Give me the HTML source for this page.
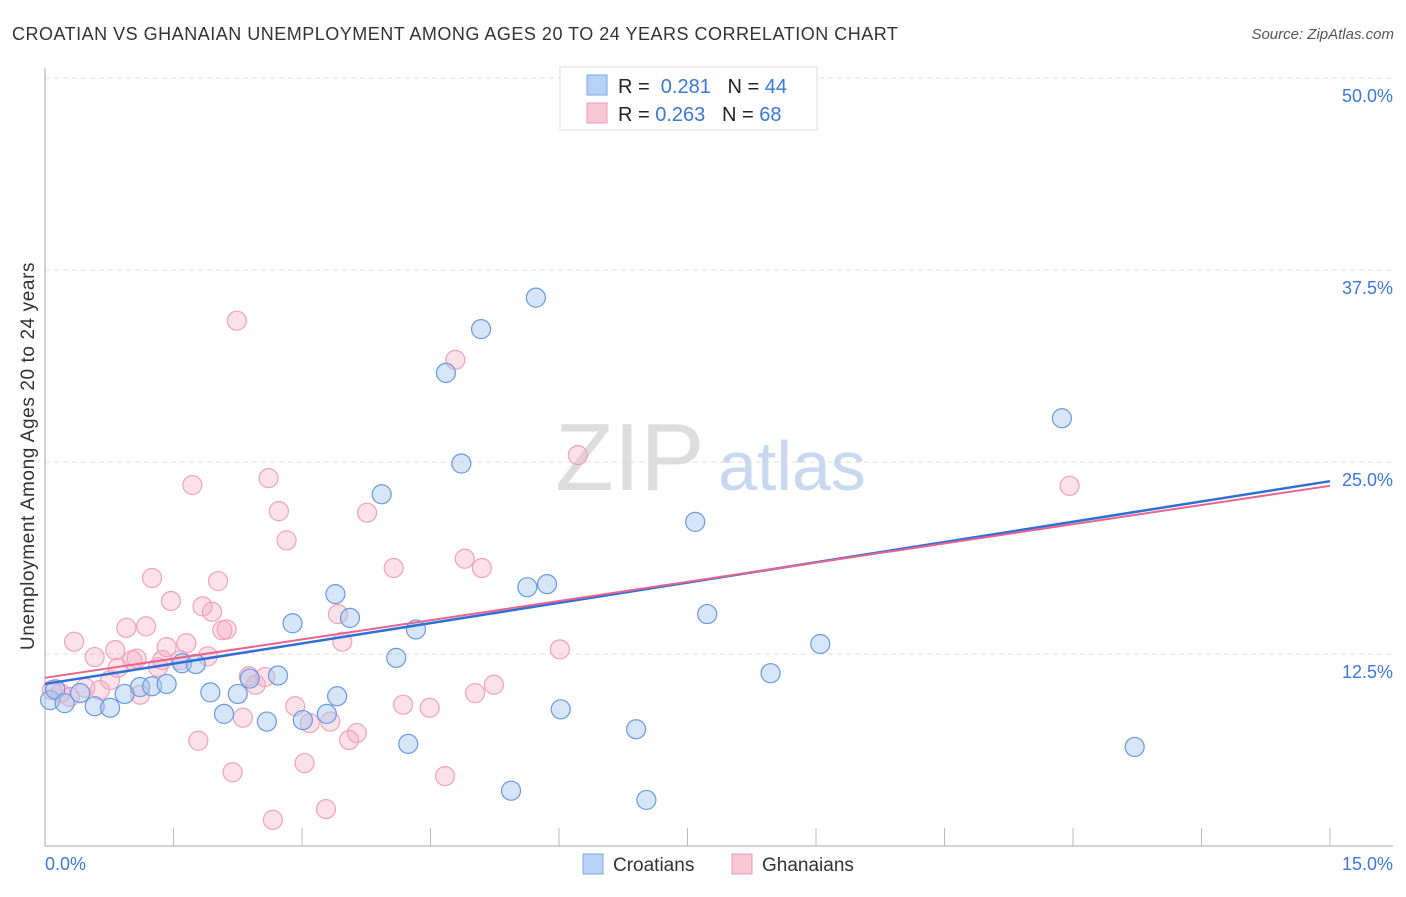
<!DOCTYPE html>
<html><head><meta charset="utf-8"><style>
body{margin:0;background:#fff;font-family:"Liberation Sans",sans-serif;}
svg text{font-family:"Liberation Sans",sans-serif;}
</style></head><body>
<svg id="c" width="1406" height="892">
<text x="12" y="40" font-size="18" fill="#333" letter-spacing="0.5">CROATIAN VS GHANAIAN UNEMPLOYMENT AMONG AGES 20 TO 24 YEARS CORRELATION CHART</text>
<text x="1394" y="39" font-size="15" fill="#555" font-style="italic" text-anchor="end">Source: ZipAtlas.com</text>
<text transform="translate(34,456) rotate(-90)" font-size="19" fill="#333" letter-spacing="0.6" text-anchor="middle">Unemployment Among Ages 20 to 24 years</text>
<text x="555" y="490" font-size="96" fill="#ddd" font-family="Liberation Serif">ZIP</text>
<text x="718" y="490" font-size="70" fill="#c8d8ee">atlas</text>
<g id="grid"></g><g id="pts"></g><g id="lines"></g>
<g>
<rect x="560" y="67" width="257" height="63" fill="#fff" stroke="#ddd"/>
<rect x="587" y="75" width="20" height="20" fill="#b8d2f5" stroke="#7aa6e6"/>
<rect x="587" y="103" width="20" height="20" fill="#f9c6d6" stroke="#eb9ab4"/>
<text x="618" y="93" font-size="20" fill="#222">R = <tspan fill="#3b78d8">&#160;0.281</tspan>&#160;&#160;&#160;N = <tspan fill="#3b78d8">44</tspan></text>
<text x="618" y="121" font-size="20" fill="#222">R = <tspan fill="#3b78d8">0.263</tspan>&#160;&#160;&#160;N = <tspan fill="#3b78d8">68</tspan></text>
</g>
<g>
<rect x="583" y="854" width="20" height="20" fill="#b8d2f5" stroke="#7aa6e6"/>
<text x="613" y="871" font-size="19" fill="#333">Croatians</text>
<rect x="732" y="854" width="20" height="20" fill="#f9c6d6" stroke="#eb9ab4"/>
<text x="762" y="871" font-size="19" fill="#333">Ghanaians</text>
</g>
</svg>
<script>
const blueX=[0.06,0.12,0.23,0.41,0.58,0.76,0.93,1.11,1.25,1.42,1.6,1.76,1.93,2.09,2.25,2.39,2.59,2.72,2.89,3.01,3.29,3.39,3.56,3.41,4.1,4.24,4.33,4.68,4.86,5.09,3.93,5.44,5.63,5.73,5.86,6.02,6.31,6.9,7.02,7.59,7.73,8.47,9.05,11.87,12.72];
const blueY=[9.5,10.2,9.3,9.96,9.1,9.0,9.9,10.35,10.4,10.55,11.9,11.85,10.0,8.6,9.9,10.9,8.1,11.1,14.5,8.2,8.6,16.4,14.85,9.75,12.25,6.65,14.1,30.8,24.9,33.65,22.9,3.6,16.85,35.7,17.05,8.9,49.9,7.6,3.0,21.1,15.1,11.25,13.15,27.85,6.45];
const pinkX=[0.08,0.18,0.29,0.34,0.47,0.58,0.64,0.76,0.82,0.85,0.95,1.02,1.07,1.11,1.18,1.25,1.32,1.37,1.42,1.47,1.58,1.65,1.72,1.79,1.84,1.9,1.95,2.02,2.07,2.12,2.19,2.24,2.31,2.38,2.46,2.57,2.61,2.66,2.73,2.82,2.92,3.03,3.09,3.28,3.33,3.42,3.47,3.55,3.64,3.76,4.07,4.18,4.49,4.67,4.79,4.9,5.02,5.1,5.24,6.01,6.22,11.96];
const pinkY=[10.15,9.95,9.7,13.3,10.3,12.3,10.15,10.8,12.75,11.6,14.2,12.1,12.2,9.85,14.3,17.45,11.65,12.1,12.95,15.95,12.1,13.2,23.5,6.85,15.6,12.35,15.25,17.25,14.05,14.1,4.8,34.2,8.35,11.05,10.5,11.0,23.95,1.7,21.8,19.9,9.1,5.4,8.0,2.4,8.1,15.1,13.3,6.9,7.35,21.7,18.1,9.2,9.0,4.55,31.65,18.7,9.95,18.1,10.5,12.8,25.45,23.45];
const trendBlue=[10.55,23.75];
const trendPink=[10.95,23.45];
const yTicks=[12.5,25,37.5,50];
const xTickLabels=["0.0%","15.0%"];
const NS="http://www.w3.org/2000/svg";
const sx=v=>45+v/15*1285, sy=v=>846-v*15.36;
function mk(tag,attrs,parent){const e=document.createElementNS(NS,tag);for(const k in attrs)e.setAttribute(k,attrs[k]);parent.appendChild(e);return e;}
const grid=document.getElementById('grid');
yTicks.forEach(t=>{
 const l=mk('line',{x1:45,x2:1393,y1:sy(t),y2:sy(t),stroke:'#ddd','stroke-dasharray':'5,4'},grid);
 
 
 const tx=mk('text',{x:1393,y:sy(t)+24,'font-size':18,fill:'#3b78d8','text-anchor':'end'},grid);
 tx.textContent=t.toFixed(1)+'%';
 
 
});
const ax=mk('line',{x1:45,x2:45,y1:68,y2:846,stroke:'#aaa'},grid);


const bx=mk('line',{x1:45,x2:1393,y1:846,y2:846,stroke:'#aaa'},grid);


for(let i=1;i<=10;i++){const t=mk('line',{x1:sx(i*1.5),x2:sx(i*1.5),y1:828,y2:846,stroke:'#bbb'},grid);
 
 }
[[0,'start',45],[1,'end',1393]].forEach(([i,a,x])=>{const t=mk('text',{x:x,y:870,'font-size':18,fill:'#3b78d8','text-anchor':a},grid);t.textContent=xTickLabels[i];
 
 });
const pts=document.getElementById('pts');
pinkX.forEach((x,i)=>{const c=mk('circle',{cx:sx(x),cy:sy(pinkY[i]),r:9.5,fill:'rgba(246,170,196,0.35)',stroke:'#eea3bb','stroke-width':1.2},pts);
 
 });
blueX.forEach((x,i)=>{const c=mk('circle',{cx:sx(x),cy:sy(blueY[i]),r:9.5,fill:'rgba(165,198,240,0.45)',stroke:'#6a9adc','stroke-width':1.2},pts);
 
 });
const lines=document.getElementById('lines');
const lb=mk('line',{x1:sx(0),y1:sy(trendBlue[0]),x2:sx(15),y2:sy(trendBlue[1]),stroke:'#2f6fd6','stroke-width':2.5},lines);


const lp=mk('line',{x1:sx(0),y1:sy(trendPink[0]),x2:sx(15),y2:sy(trendPink[1]),stroke:'#e8648e','stroke-width':2},lines);


</script>
</body></html>
